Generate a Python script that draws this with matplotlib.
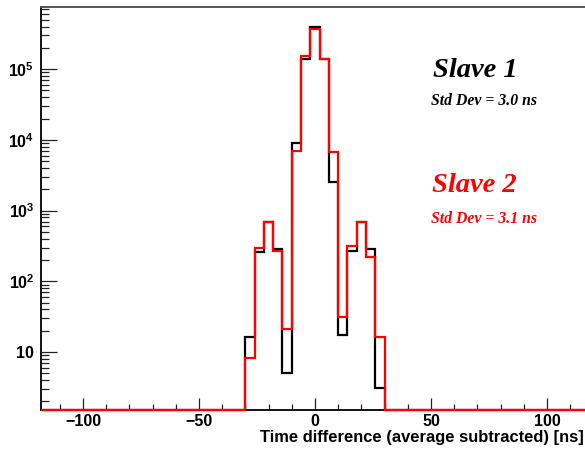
import numpy as np
import matplotlib
matplotlib.use("Agg")
import matplotlib.pyplot as plt
from matplotlib.ticker import FixedLocator, FuncFormatter, LogLocator, NullFormatter, MultipleLocator

# ---- data ----
bin_edges = [-118, -30, -26, -22, -18, -14, -10, -6, -2, 2, 6, 10, 14, 18, 22, 26, 30, 118]
slave1 = [0, 16.5, 262, 697, 290, 5.1, 8950, 1.39e5, 3.99e5, 1.38e5, 2540, 17.4, 271, 697, 283, 3.06, 0]
slave2 = [0, 8.2, 293, 697, 265, 21, 7030, 1.54e5, 3.74e5, 1.41e5, 6670, 31.6, 319, 697, 223, 16.1, 0]
x_ticks = [-100, -50, 0, 50, 100]
y_major = [10, 1e2, 1e3, 1e4, 1e5]
labels_text = ["Slave 1", "Std Dev = 3.0 ns", "Slave 2", "Std Dev = 3.1 ns"]
xlabel = "Time difference (average subtracted) [ns]"

YMIN, YMAX = 1.54, 7.5e5

plt.rcParams['mathtext.fontset'] = 'custom'
plt.rcParams['mathtext.rm'] = 'Liberation Sans:bold'
plt.rcParams['mathtext.bf'] = 'Liberation Sans:bold'
plt.rcParams['mathtext.it'] = 'Liberation Sans:bold'

W, H = 585, 450
fig = plt.figure(figsize=(W / 100, H / 100), dpi=100)
left_px, right_px, top_px, bot_px = 41.2, 588.7, 7.3, 409.5
ax = fig.add_axes([left_px / W, 1 - bot_px / H, (right_px - left_px) / W, (bot_px - top_px) / H])

def floor(vals):
    return [v if v > 0 else YMIN for v in vals]

ax.stairs(floor(slave1), bin_edges, color='black', lw=1.6, baseline=None, clip_on=False, zorder=3)
ax.stairs(floor(slave2), bin_edges, color='#ff0000', lw=1.6, baseline=None, clip_on=False, zorder=4)

ax.set_yscale('log')
ax.set_xlim(-118, 118)
ax.set_ylim(YMIN, YMAX)

ax.xaxis.set_major_locator(FixedLocator(x_ticks))
ax.xaxis.set_minor_locator(MultipleLocator(10))
ax.yaxis.set_major_locator(FixedLocator(y_major))
ax.yaxis.set_minor_locator(LogLocator(base=10, subs=np.arange(2, 10)))
ax.yaxis.set_minor_formatter(NullFormatter())

def xfmt(v, p):
    return '\u2212%d' % abs(v) if v < 0 else '%d' % v

def yfmt(v, p):
    e = int(round(np.log10(v)))
    if e == 1:
        return '10'
    return r'$\mathbf{10^{%d}}$' % e

ax.xaxis.set_major_formatter(FuncFormatter(xfmt))
ax.yaxis.set_major_formatter(FuncFormatter(yfmt))

ax.tick_params(axis='x', which='major', direction='in', length=8.6, width=0.9, pad=3.5,
               labelsize=11.5, top=False, color='#222222')
ax.tick_params(axis='x', which='minor', direction='in', length=4.3, width=0.9, top=False, color='#222222')
ax.tick_params(axis='y', which='major', direction='in', length=11.5, width=0.9, pad=5,
               labelsize=11.5, right=False, color='#222222')
ax.tick_params(axis='y', which='minor', direction='in', length=5.8, width=0.9, right=False, color='#222222')
for lab in ax.get_xticklabels() + ax.get_yticklabels():
    lab.set_fontfamily('Liberation Sans')
    lab.set_fontweight('bold')

for s in ['left', 'bottom']:
    ax.spines[s].set_linewidth(1.3)
    ax.spines[s].set_color('black')
ax.spines['top'].set_linewidth(1.4)
ax.spines['top'].set_color('#555555')
ax.spines['right'].set_visible(False)

ax.set_xlabel(xlabel, fontfamily='Liberation Sans', fontweight='bold', fontsize=11.9, ha='right', va='baseline')
ax.xaxis.set_label_coords(584 / W, 1 - 442 / H, transform=fig.transFigure)

serif = dict(fontfamily='Liberation Serif', fontweight='bold', fontstyle='italic', va='baseline', ha='left')
fig.text(433 / W, 1 - 77 / H, labels_text[0], color='black', fontsize=20.5, **serif)
fig.text(431 / W, 1 - 105 / H, labels_text[1], color='black', fontsize=11.3, **serif)
fig.text(432 / W, 1 - 192 / H, labels_text[2], color='#ff0000', fontsize=20.5, **serif)
fig.text(431 / W, 1 - 223 / H, labels_text[3], color='#ff0000', fontsize=11.3, **serif)

fig.savefig('out.png', dpi=100)
